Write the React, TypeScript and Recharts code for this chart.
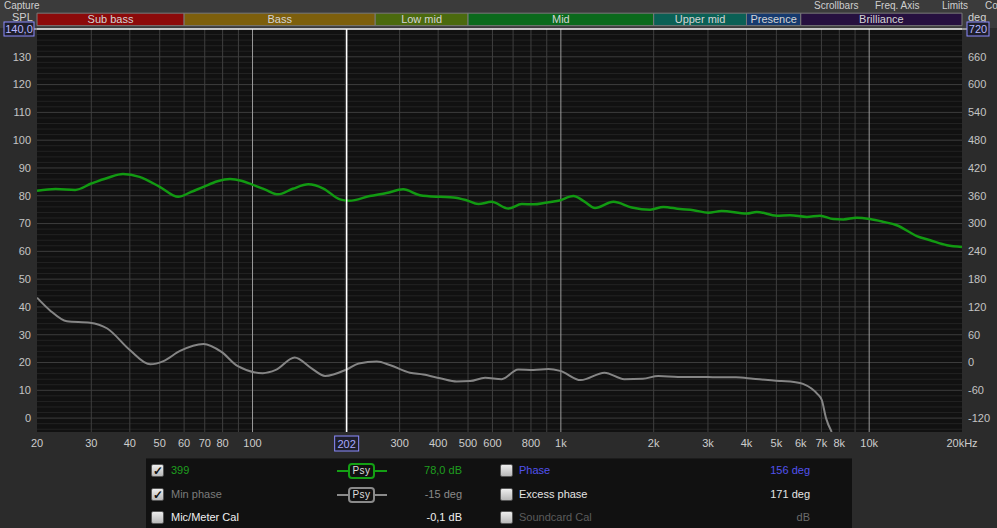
import {
  CartesianGrid,
  ComposedChart,
  Line,
  ReferenceArea,
  ReferenceLine,
  XAxis,
  YAxis,
} from "recharts";

// frequency bands shown above the graph
const bandNames = ["Sub bass", "Bass", "Low mid", "Mid", "Upper mid", "Presence", "Brilliance"];
const bandEdges = [20, 60, 250, 500, 2000, 4000, 6000, 20000];
const bandColors = ["#8c0a0a", "#7d5f0c", "#4b6a0e", "#0b6a1c", "#0b6055", "#163a6e", "#26103f"];
// the band strip sits just above the 140 dB line (in left-axis units)
const bandLow = 141.2;
const bandHigh = 145.7;

// measurement "399" (SPL, dB)
const splFreqs = [
  20, 23, 26.6, 30, 34, 38, 43, 50, 57.4, 63, 69.3, 77, 84.5, 92, 99.4, 110, 121, 135, 151.7,
  169.8, 192, 206, 240, 272, 308, 349, 406, 448, 494, 540, 596, 676, 747, 815, 903, 982, 1098,
  1190, 1291, 1481, 1698, 1948, 2151, 2435, 2691, 3008, 3325, 4008, 4318, 5014, 5535, 6277,
  6926, 7655, 8244, 9110, 10066, 11120, 12280, 14270, 15770, 17860, 20000,
];
const splValues = [
  81.8, 82.4, 82.1, 84.4, 86.5, 87.8, 86.8, 83.2, 79.6, 81.3, 83.2, 85.2, 86.0, 85.4, 84.1, 82.2,
  80.5, 82.5, 84.1, 82.6, 78.7, 78.2, 79.9, 81.0, 82.3, 80.2, 79.6, 79.4, 78.4, 77.0, 77.8, 75.4,
  77.0, 76.9, 77.6, 78.2, 79.9, 78.0, 75.6, 77.8, 75.8, 75.0, 76.0, 75.2, 74.8, 73.9, 74.5, 73.6,
  74.2, 72.8, 73.0, 72.4, 72.8, 71.6, 71.5, 72.1, 71.6, 70.6, 69.4, 65.5, 64.0, 62.2, 61.6,
];

// min phase (deg, right axis)
const phaseFreqs = [
  20, 22, 25, 29.7, 33.7, 40, 46.6, 51.4, 58.2, 69.3, 79.3, 89.6, 108, 119, 137, 155, 172, 202,
  221, 253, 280, 324, 358, 406, 460, 508, 568, 643, 727, 815, 911, 995, 1160, 1385, 1606, 1845,
  2072, 2400, 2800, 3200, 3700, 4200, 4700, 5200, 5700, 6100, 6500, 6800, 7020, 7245, 7560,
];
const phaseValues = [
  140, 113, 89, 86, 74, 27, -4, 3, 25, 40, 23, -8, -23, -16, 11, -12, -29, -15, -2, 2, -6, -22,
  -26, -34, -41, -40, -33, -36, -15, -16, -14, -18, -38, -22, -36, -35, -29, -31, -31, -32, -32,
  -35, -38, -40, -42, -46, -56, -68, -81, -120, -150,
];

const xTicks = [20, 30, 40, 50, 60, 70, 80, 100, 300, 400, 500, 600, 800, 1000, 2000, 3000, 4000, 5000, 6000, 7000, 8000, 10000, 20000];
const gridFreqs = [30, 40, 50, 60, 70, 80, 90, 200, 300, 400, 500, 600, 700, 800, 900, 2000, 3000, 4000, 5000, 6000, 7000, 8000, 9000];
const brightFreqs = [100, 1000, 10000];
const splTicks = [0, 10, 20, 30, 40, 50, 60, 70, 80, 90, 100, 110, 120, 130];
const degTicks = [-120, -60, 0, 60, 120, 180, 240, 300, 360, 420, 480, 540, 600, 660];
const minorLines = Array.from({ length: 72 }, (_, i) => -4 + i * 2).filter((v) => v % 10 !== 0);
const cursorFreq = 202;

const menuItems = ["Scrollbars", "Freq. Axis", "Limits", "Co"];
const menuLeft = [814, 875, 942, 985];

const splData = splFreqs.map((f, i) => ({ f, spl: splValues[i] }));
const phaseData = phaseFreqs.map((f, i) => ({ f, deg: phaseValues[i] }));

const FONT = "'Liberation Sans', Arial, sans-serif";

const fmtFreq = (v: number) => (v === 20000 ? "20kHz" : v >= 1000 ? `${v / 1000}k` : `${v}`);

const CursorLabel = (props: any) => {
  const vb = props.viewBox || {};
  const x = vb.x;
  const bottom = Math.max(vb.y, vb.y + (vb.height || 0));
  return (
    <g>
      <rect x={x - 12} y={bottom + 4} width={24} height={15} fill="#1e1e2a" stroke="#8c8cff" strokeWidth={1} />
      <text x={x} y={bottom + 15.5} textAnchor="middle" fill="#a8a8ff" fontSize={11} fontFamily={FONT}>
        {cursorFreq}
      </text>
    </g>
  );
};

const TopLabel = (props: any) => {
  const vb = props.viewBox || {};
  const left = vb.x;
  const right = vb.x + vb.width;
  const y = vb.y;
  return (
    <g>
      <line x1={left - 4} x2={left} y1={y} y2={y} stroke="#fff" />
      <line x1={right} x2={right + 6} y1={y} y2={y} stroke="#fff" />
      <rect x={left - 33} y={y - 7} width={30} height={14} fill="#1e1e2a" stroke="#8c8cff" />
      <text x={left - 18} y={y + 4} textAnchor="middle" fill="#b8b8ff" fontSize={11} fontFamily={FONT}>
        140,0
      </text>
      <rect x={right + 5} y={y - 7} width={22} height={14} fill="#1e1e2a" stroke="#8c8cff" />
      <text x={right + 16} y={y + 4} textAnchor="middle" fill="#b8b8ff" fontSize={11} fontFamily={FONT}>
        720
      </text>
    </g>
  );
};

const CheckBox = ({ checked }: { checked: boolean }) => (
  <div
    style={{
      width: 13,
      height: 13,
      borderRadius: 2,
      background: "linear-gradient(#eee, #b8b8b8)",
      border: "1px solid #555",
      boxSizing: "border-box",
      color: "#111",
      fontSize: 12,
      lineHeight: "12px",
      textAlign: "center",
      fontWeight: "bold",
    }}
  >
    {checked ? "✓" : ""}
  </div>
);

const PsySample = ({ color }: { color: string }) => (
  <div style={{ position: "absolute", left: 191, top: -1, width: 50, height: 16 }}>
    <div style={{ position: "absolute", left: 0, right: 0, top: 7, height: 2, background: color }} />
    <div
      style={{
        position: "absolute",
        left: 11,
        top: 0,
        width: 23,
        height: 12,
        border: `2px solid ${color}`,
        borderRadius: 4,
        background: "#111",
        color: "#ddd",
        fontSize: 10,
        lineHeight: "12px",
        textAlign: "center",
        letterSpacing: 0.5,
      }}
    >
      Psy
    </div>
  </div>
);

const legendRows = [
  { checked: true, name: "399", color: "#1f9e1f", value: "78,0 dB", valueColor: "#1f9e1f", sample: "#14a014" },
  { checked: true, name: "Min phase", color: "#7c7c7c", value: "-15 deg", valueColor: "#8a8a8a", sample: "#8a8a8a" },
  { checked: false, name: "Mic/Meter Cal", color: "#f0f0f0", value: "-0,1 dB", valueColor: "#f0f0f0", sample: "" },
];
const legendRows2 = [
  { name: "Phase", color: "#5252ee", value: "156 deg", valueColor: "#5252ee" },
  { name: "Excess phase", color: "#e4e4e4", value: "171 deg", valueColor: "#e4e4e4" },
  { name: "Soundcard Cal", color: "#5c5c5c", value: "dB", valueColor: "#6c6c6c" },
];

const App = () => {
  return (
    <div
      style={{
        position: "absolute",
        left: 0,
        top: 0,
        width: 997,
        height: 528,
        background: "#2b2b2b",
        overflow: "hidden",
        fontFamily: FONT,
      }}
    >
      <div style={{ position: "absolute", left: 0, top: 0, width: 997, height: 28, background: "#3b3b3b" }} />
      <div style={{ position: "absolute", left: 4, top: 0, fontSize: 10, lineHeight: "11px", color: "#cfcfcf" }}>Capture</div>
      {menuItems.map((m, i) => (
        <div
          key={m}
          style={{ position: "absolute", left: menuLeft[i], top: 0, fontSize: 10, lineHeight: "11px", color: "#cfcfcf", whiteSpace: "nowrap" }}
        >
          {m}
        </div>
      ))}
      <div style={{ position: "absolute", left: 12, top: 11, fontSize: 11, color: "#d0d0d0" }}>SPL</div>
      <div style={{ position: "absolute", left: 968, top: 11, fontSize: 11, color: "#d0d0d0" }}>deg</div>

      {/* main graph */}
      <div style={{ position: "absolute", left: 0, top: 0 }}>
        <ComposedChart width={997} height={455} margin={{ top: 29, right: 0, bottom: 0, left: 0 }}>
          <CartesianGrid fill="#111111" horizontal={false} vertical={false} yAxisId="spl" />
          <XAxis
            dataKey="f"
            type="number"
            scale="log"
            domain={[20, 20000]}
            allowDataOverflow
            ticks={xTicks}
            interval={0}
            tickFormatter={fmtFreq}
            tickLine={false}
            axisLine={false}
            tickSize={0}
            tickMargin={7}
            height={23}
            tick={{ fill: "#cdcdcd", fontSize: 11, fontFamily: FONT }}
          />
          <YAxis
            yAxisId="spl"
            type="number"
            domain={[-5, 140]}
            allowDataOverflow
            ticks={splTicks}
            interval={0}
            width={37}
            tickLine={false}
            axisLine={false}
            tickSize={0}
            tickMargin={6}
            tick={{ fill: "#c4c4c4", fontSize: 11, fontFamily: FONT }}
          />
          <YAxis
            yAxisId="deg"
            orientation="right"
            type="number"
            domain={[-150, 720]}
            allowDataOverflow
            ticks={degTicks}
            interval={0}
            width={35}
            tickLine={false}
            axisLine={false}
            tickSize={0}
            tickMargin={6}
            tick={{ fill: "#c4c4c4", fontSize: 11, fontFamily: FONT }}
          />
          {bandNames.map((name, i) => (
            <ReferenceArea
              key={name}
              yAxisId="spl"
              x1={bandEdges[i]}
              x2={bandEdges[i + 1]}
              y1={bandLow}
              y2={bandHigh}
              ifOverflow="visible"
              fill={bandColors[i]}
              fillOpacity={1}
              stroke="#7a7a7a"
              strokeWidth={1}
              label={{ value: name, position: "center", fill: "#d4d4d4", fontSize: 11, fontFamily: FONT }}
            />
          ))}
          {minorLines.map((v) => (
            <ReferenceLine key={`m${v}`} yAxisId="spl" y={v} stroke="#232323" strokeWidth={1} />
          ))}
          {splTicks.map((v) => (
            <ReferenceLine key={`M${v}`} yAxisId="spl" y={v} stroke="#3d3d3d" strokeWidth={1} />
          ))}
          {gridFreqs.map((f) => (
            <ReferenceLine key={`v${f}`} yAxisId="spl" x={f} stroke="#3f3f3f" strokeWidth={1} />
          ))}
          {brightFreqs.map((f) => (
            <ReferenceLine key={`b${f}`} yAxisId="spl" x={f} stroke="#9a9a9a" strokeWidth={1} />
          ))}
          <ReferenceLine yAxisId="spl" y={140} stroke="#ffffff" strokeWidth={1.5} label={<TopLabel />} />
          <Line
            yAxisId="deg"
            data={phaseData}
            dataKey="deg"
            type="monotone"
            stroke="#858585"
            strokeWidth={2}
            dot={false}
            activeDot={false}
            isAnimationActive={false}
          />
          <Line
            yAxisId="spl"
            data={splData}
            dataKey="spl"
            type="monotone"
            stroke="#129a12"
            strokeWidth={2.5}
            dot={false}
            activeDot={false}
            isAnimationActive={false}
          />
          <ReferenceLine yAxisId="spl" x={cursorFreq} stroke="#ffffff" strokeWidth={1.5} label={<CursorLabel />} />
        </ComposedChart>
      </div>

      {/* legend panel */}
      <div
        style={{
          position: "absolute",
          left: 146,
          top: 458,
          width: 706,
          height: 72,
          background: "#111111",
          borderTop: "1px solid #1c1c1c",
          fontSize: 11,
        }}
      >
        {legendRows.map((r, i) => (
          <div key={r.name} style={{ position: "absolute", left: 0, top: 5 + i * 23.5, width: 706, height: 16 }}>
            <div style={{ position: "absolute", left: 5, top: 0 }}>
              <CheckBox checked={r.checked} />
            </div>
            <div style={{ position: "absolute", left: 25, top: 0, color: r.color }}>{r.name}</div>
            {r.sample ? <PsySample color={r.sample} /> : null}
            <div style={{ position: "absolute", right: 390, top: 0, color: r.valueColor }}>{r.value}</div>
            <div style={{ position: "absolute", left: 354, top: 0 }}>
              <CheckBox checked={false} />
            </div>
            <div style={{ position: "absolute", left: 373, top: 0, color: legendRows2[i].color }}>{legendRows2[i].name}</div>
            <div style={{ position: "absolute", right: 42, top: 0, color: legendRows2[i].valueColor }}>
              {legendRows2[i].value}
            </div>
          </div>
        ))}
      </div>
    </div>
  );
};

export default App;
